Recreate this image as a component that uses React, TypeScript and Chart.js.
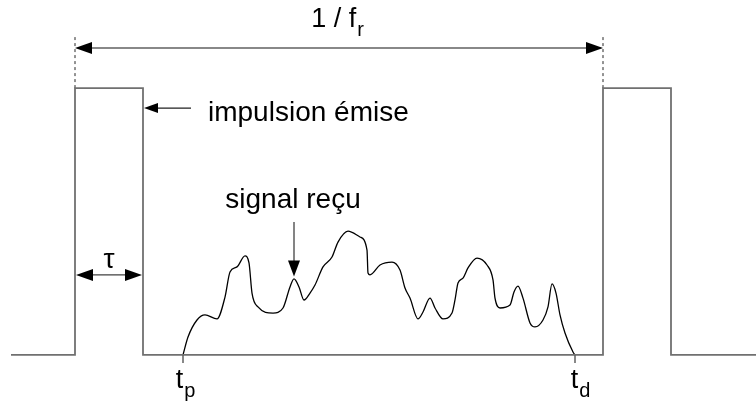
import { useEffect, useRef } from 'react';
import { Chart, registerables } from 'chart.js';

Chart.register(...registerables);

// Transmitted pulse train (time units, amplitude: pulse = 100)
const pulseTimes = [-64, 0, 0, 68, 68, 528, 528, 596, 596, 681];
const pulseLevels = [0, 0, 100, 100, 0, 0, 100, 100, 0, 0];

// Received echo signal
const echoTimes = [108, 113, 122, 130, 142, 150, 155, 162, 170, 174, 177, 183, 198, 208, 215, 219, 224, 229, 235, 240, 248, 257, 263, 273, 285, 292, 293, 295, 305, 317, 325, 330, 335, 343, 348, 355, 360, 368, 377, 380, 383, 388, 393, 402, 412, 418, 420, 425, 435, 439, 443, 448, 455, 460, 468, 473, 477, 481, 485, 490, 498, 500];
const echoLevels = [0, 6.7, 13.1, 15.0, 13.5, 21.7, 31.1, 33.0, 37.1, 34.5, 23.2, 18.0, 15.7, 17.6, 25.5, 28.5, 25.5, 20.6, 23.2, 26.2, 33.0, 36.7, 42.3, 46.4, 44.2, 39.3, 30.7, 30.0, 33.7, 34.8, 31.8, 25.1, 21.3, 13.5, 16.1, 21.3, 17.6, 13.5, 15.7, 20.6, 27.0, 28.8, 32.6, 36.3, 33.7, 28.1, 21.3, 17.6, 18.7, 23.6, 25.8, 21.3, 12.0, 10.5, 13.1, 18.0, 26.6, 23.2, 15.0, 8.2, 1.1, 0];

// Key instants
const pulseWidth = 68; // tau
const period = 528; // 1 / f_r
const tp = 108;
const td = 500;

// Text labels
const periodLabel = '1 / f';
const periodSub = 'r';
const tauLabel = 'τ';
const emittedLabel = 'impulsion émise';
const receivedLabel = 'signal reçu';
const tpLabel = 't';
const tpSub = 'p';
const tdLabel = 't';
const tdSub = 'd';

const X_MIN = -75;
const X_MAX = 681;
const Y_MIN = -18;
const Y_MAX = 133;

const FONT = "'Liberation Sans', Arial, sans-serif";

function head(ctx: CanvasRenderingContext2D, tx: number, ty: number, dx: number, dy: number, len: number, half: number) {
  const nx = -dy;
  const ny = dx;
  ctx.beginPath();
  ctx.moveTo(tx, ty);
  ctx.lineTo(tx - dx * len + nx * half, ty - dy * len + ny * half);
  ctx.lineTo(tx - dx * len - nx * half, ty - dy * len - ny * half);
  ctx.closePath();
  ctx.fillStyle = '#000';
  ctx.fill();
}

function subText(ctx: CanvasRenderingContext2D, main: string, sub: string, x: number, y: number, size: number, align: 'left' | 'center') {
  const subSize = Math.round(size * 0.74);
  ctx.font = `${size}px ${FONT}`;
  const w1 = ctx.measureText(main).width;
  ctx.font = `${subSize}px ${FONT}`;
  const w2 = ctx.measureText(sub).width;
  const start = align === 'center' ? x - (w1 + w2) / 2 : x;
  ctx.textAlign = 'left';
  ctx.textBaseline = 'alphabetic';
  ctx.fillStyle = '#000';
  ctx.font = `${size}px ${FONT}`;
  ctx.fillText(main, start, y);
  ctx.font = `${subSize}px ${FONT}`;
  ctx.fillText(sub, start + w1 + 1, y + size * 0.33);
}

const annotations = {
  id: 'annotations',
  afterDatasetsDraw(chart: any) {
    const ctx: CanvasRenderingContext2D = chart.ctx;
    const xs = chart.scales.x;
    const ys = chart.scales.y;
    const X = (v: number) => xs.getPixelForValue(v);
    const Y = (v: number) => ys.getPixelForValue(v);
    ctx.save();

    // dashed markers
    ctx.strokeStyle = '#707070';
    ctx.lineWidth = 1.5;
    ctx.setLineDash([3, 3]);
    for (const t of [0, period]) {
      ctx.beginPath();
      ctx.moveTo(X(t), Y(100));
      ctx.lineTo(X(t), Y(119.5));
      ctx.stroke();
    }
    ctx.setLineDash([]);

    // period arrow
    const ya = Y(115);
    ctx.strokeStyle = '#606060';
    ctx.lineWidth = 1.6;
    ctx.beginPath();
    ctx.moveTo(X(0) + 10, ya);
    ctx.lineTo(X(period) - 10, ya);
    ctx.stroke();
    head(ctx, X(0), ya, -1, 0, 17, 6);
    head(ctx, X(period), ya, 1, 0, 17, 6);
    subText(ctx, periodLabel, periodSub, X(262), Y(122.8), 27, 'center');

    // tau arrow
    const yt = Y(30);
    ctx.strokeStyle = '#404040';
    ctx.lineWidth = 1.4;
    ctx.beginPath();
    ctx.moveTo(X(0) + 10, yt);
    ctx.lineTo(X(pulseWidth) - 10, yt);
    ctx.stroke();
    head(ctx, X(0) + 1, yt, -1, 0, 17, 6);
    head(ctx, X(pulseWidth) - 1, yt, 1, 0, 17, 6);
    ctx.font = `28px ${FONT}`;
    ctx.textAlign = 'center';
    ctx.textBaseline = 'alphabetic';
    ctx.fillStyle = '#000';
    ctx.fillText(tauLabel, X(34), Y(32.6));

    // emitted pulse arrow
    const ye = Y(92.5);
    ctx.strokeStyle = '#202020';
    ctx.lineWidth = 1.3;
    ctx.beginPath();
    ctx.moveTo(X(pulseWidth) + 8, ye);
    ctx.lineTo(X(116), ye);
    ctx.stroke();
    head(ctx, X(pulseWidth) + 1, ye, -1, 0, 14, 5);
    ctx.font = `28px ${FONT}`;
    ctx.textAlign = 'left';
    ctx.fillText(emittedLabel, X(133), Y(87.6));

    // received signal arrow
    const xr = X(219);
    ctx.strokeStyle = '#505050';
    ctx.lineWidth = 1.4;
    ctx.beginPath();
    ctx.moveTo(xr, Y(49.8));
    ctx.lineTo(xr, Y(33));
    ctx.stroke();
    head(ctx, xr, Y(29.4), 0, 1, 16, 6);
    ctx.font = `28px ${FONT}`;
    ctx.textAlign = 'center';
    ctx.fillText(receivedLabel, X(218), Y(55));

    // tp / td ticks
    ctx.strokeStyle = '#606060';
    ctx.lineWidth = 1.5;
    for (const t of [tp, td]) {
      ctx.beginPath();
      ctx.moveTo(X(t), Y(0));
      ctx.lineTo(X(t), Y(-3));
      ctx.stroke();
    }
    subText(ctx, tpLabel, tpSub, X(tp) + 2, Y(-12.4), 27, 'center');
    subText(ctx, tdLabel, tdSub, X(td) + 5, Y(-12.4), 27, 'center');

    ctx.restore();
  },
};

export default function App() {
  const ref = useRef<HTMLCanvasElement | null>(null);
  useEffect(() => {
    if (!ref.current) return;
    const chart = new Chart(ref.current, {
      type: 'line',
      data: {
        datasets: [
          {
            data: pulseTimes.map((t, i) => ({ x: t, y: pulseLevels[i] })),
            borderColor: '#707070',
            borderWidth: 1.8,
            pointRadius: 0,
            tension: 0,
            fill: false,
          },
          {
            data: echoTimes.map((t, i) => ({ x: t, y: echoLevels[i] })),
            borderColor: '#000000',
            borderWidth: 1.3,
            pointRadius: 0,
            cubicInterpolationMode: 'monotone',
            fill: false,
          },
        ],
      },
      options: {
        responsive: false,
        animation: false,
        events: [],
        layout: { padding: 0 },
        plugins: { legend: { display: false }, tooltip: { enabled: false } },
        scales: {
          x: { type: 'linear', min: X_MIN, max: X_MAX, display: false },
          y: { type: 'linear', min: Y_MIN, max: Y_MAX, display: false },
        },
      },
      plugins: [annotations],
    });
    return () => chart.destroy();
  }, []);
  return (
    <div style={{ position: 'fixed', left: 0, top: 0, width: 756, height: 403, background: '#fff' }}>
      <canvas ref={ref} width={756} height={403} />
    </div>
  );
}
